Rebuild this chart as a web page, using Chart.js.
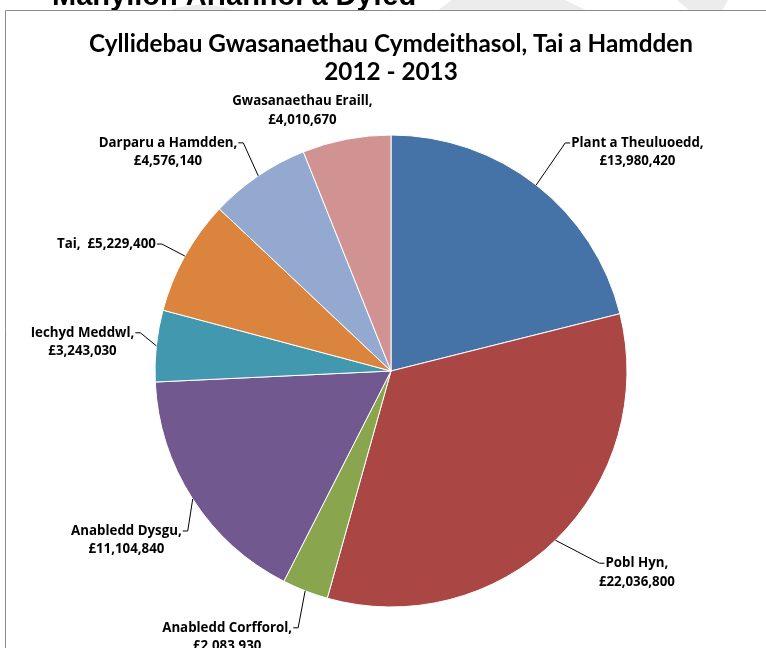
<!DOCTYPE html>
<html><head><meta charset="utf-8">
<script src="https://cdn.jsdelivr.net/npm/chart.js@4.4.0/dist/chart.umd.min.js"></script>
<style>html,body{margin:0;padding:0;background:#fff;overflow:hidden}canvas{display:block}</style>
</head><body>
<canvas id="c" width="766" height="648"></canvas>
<script>
// ---- data ----
const categories = ['Plant a Theuluoedd', 'Pobl Hyn', 'Anabledd Corfforol', 'Anabledd Dysgu', 'Iechyd Meddwl', 'Tai', 'Darparu a Hamdden', 'Gwasanaethau Eraill'];
const values = [13980420, 22036800, 2083930, 11104840, 3243030, 5229400, 4576140, 4010670];
const valueLabels = ['£13,980,420', '£22,036,800', '£2,083,930', '£11,104,840', '£3,243,030', '£5,229,400', '£4,576,140', '£4,010,670'];
const titleLines = ['Cyllidebau Gwasanaethau Cymdeithasol, Tai a Hamdden', '2012 - 2013'];
const headingText = 'Manylion Ariannol a Dyfed';

// ---- styles / layout ----
const colors = ['#4572A7', '#AA4643', '#89A54E', '#71588F', '#4198AF', '#DB843D', '#93A9CF', '#D19392'];
// elbow of each leader line, offset from the slice's outer mid point; null = no leader
const labelElbow = [[29,-42],[44,23],[-7,37],[-5,32],[-16,-13],[-23,-12],[-15,-33],null];
const labelSide = ['right','right','left','left','left','left','left','center'];
const labelOneLine = [false,false,false,false,false,true,false,false];
const centerLabelOffset = [-44,-38];
const LABEL_FONT = 'bold 13.3px "Open Sans"';

const decor = {
  id: 'decor',
  beforeDraw(chart) {
    const ctx = chart.ctx;
    ctx.save();
    // faint watermark shapes above the frame
    ctx.fillStyle = '#ececec';
    ctx.beginPath(); ctx.moveTo(437,11); ctx.lineTo(452,0); ctx.lineTo(565,0); ctx.lineTo(588,11); ctx.closePath(); ctx.fill();
    ctx.beginPath(); ctx.moveTo(677,0); ctx.lineTo(728,0); ctx.lineTo(722,11); ctx.lineTo(690,11); ctx.closePath(); ctx.fill();
    ctx.beginPath(); ctx.moveTo(168,11); ctx.quadraticCurveTo(200,-2,235,11); ctx.closePath(); ctx.fill();
    // cut-off heading of the page
    ctx.fillStyle = '#000';
    ctx.font = 'bold 29px "Liberation Sans"';
    ctx.textBaseline = 'alphabetic';
    ctx.textAlign = 'left';
    ctx.fillText(headingText, 52, 5, 375);
    // chart frame
    ctx.strokeStyle = '#8a8a8a';
    ctx.lineWidth = 1;
    ctx.beginPath(); ctx.moveTo(5.5, 648); ctx.lineTo(5.5, 10.5); ctx.lineTo(766, 10.5); ctx.stroke();
    ctx.restore();
  }
};

const pieLabels = {
  id: 'pieLabels',
  afterDatasetsDraw(chart) {
    const ctx = chart.ctx;
    const meta = chart.getDatasetMeta(0);
    ctx.save();
    ctx.font = LABEL_FONT;
    ctx.fillStyle = '#000';
    ctx.strokeStyle = '#000';
    ctx.lineWidth = 1;
    ctx.textBaseline = 'middle';
    meta.data.forEach((arc, i) => {
      const p = arc.getProps(['x','y','startAngle','endAngle','outerRadius'], true);
      const mid = (p.startAngle + p.endAngle) / 2;
      const ex = p.x + Math.cos(mid) * p.outerRadius;
      const ey = p.y + Math.sin(mid) * p.outerRadius;
      const l1 = labelOneLine[i] ? categories[i] + ',  ' + valueLabels[i] : categories[i] + ',';
      const w1 = ctx.measureText(l1).width;
      let cx, ly;
      if (labelSide[i] === 'center') {
        cx = ex + centerLabelOffset[0];
        ly = ey + centerLabelOffset[1];
      } else {
        const bx = ex + labelElbow[i][0], by = ey + labelElbow[i][1];
        const dir = labelSide[i] === 'right' ? 1 : -1;
        ctx.beginPath();
        ctx.moveTo(ex, ey);
        ctx.lineTo(bx, by);
        ctx.lineTo(bx + dir * 5, by);
        ctx.stroke();
        cx = dir > 0 ? bx + 6 + w1 / 2 : bx - 6 - w1 / 2;
        ly = by;
      }
      ctx.textAlign = 'center';
      ctx.fillText(l1, cx, ly);
      if (!labelOneLine[i]) ctx.fillText(valueLabels[i], cx, ly + 18.5);
    });
    ctx.restore();
  }
};

function build() {
  new Chart(document.getElementById('c'), {
    type: 'pie',
    data: {
      labels: categories,
      datasets: [{
        data: values,
        backgroundColor: colors,
        borderColor: '#ffffff',
        borderWidth: 1
      }]
    },
    options: {
      responsive: false,
      animation: false,
      devicePixelRatio: 1,
      layout: { padding: { left: 16, right: 0, top: 0, bottom: 40.5 } },
      plugins: {
        legend: { display: false },
        tooltip: { enabled: false },
        title: {
          display: true,
          text: titleLines,
          color: '#000',
          font: { family: 'Lato', size: 24.3, weight: 'bold', lineHeight: '28px' },
          padding: { top: 30, bottom: 48.5 }
        }
      }
    },
    plugins: [decor, pieLabels]
  });
}
if (document.fonts && document.fonts.load) {
  Promise.all([document.fonts.load('bold 13.3px "Open Sans"'), document.fonts.load('bold 24px Lato'), document.fonts.load('bold 29px "Liberation Sans"')]).then(build, build);
} else build();
</script>
</body></html>
